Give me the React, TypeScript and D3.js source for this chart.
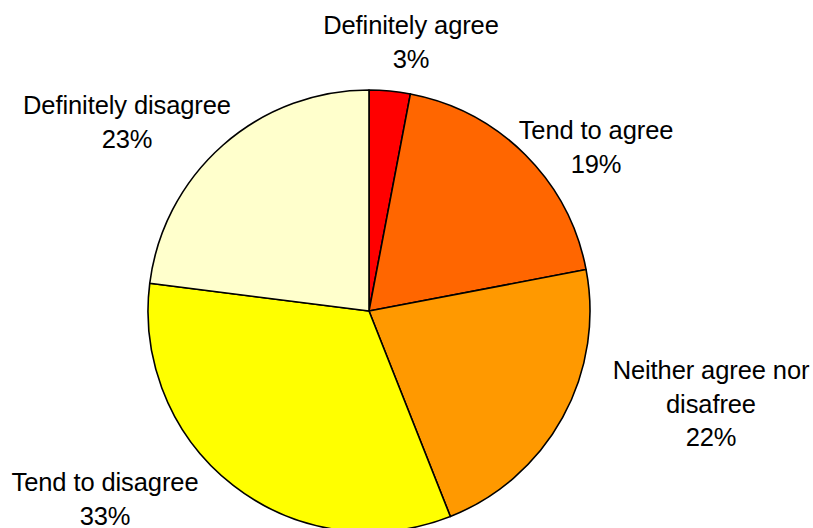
import React from "react";
import * as d3 from "d3";

const categories = ["Definitely agree", "Tend to agree", "Neither agree nor disafree", "Tend to disagree", "Definitely disagree"];
const values = [3, 19, 22, 33, 23];
const colors = ["#FF0000", "#FF6600", "#FF9900", "#FFFF00", "#FFFFCC"];
const labelLines = [
  ["Definitely agree", "3%"],
  ["Tend to agree", "19%"],
  ["Neither agree nor", "disafree", "22%"],
  ["Tend to disagree", "33%"],
  ["Definitely disagree", "23%"],
];
const labelPos: [number, number][] = [
  [411, 34],
  [596, 139],
  [711, 379],
  [105, 491],
  [127, 114],
];

export default function App() {
  const W = 813, H = 528;
  const cx = 369, cy = 311, r = 221;
  const pie = d3.pie<number>().sort(null).value((d) => d)(values);
  const arc = d3.arc<d3.PieArcDatum<number>>().innerRadius(0).outerRadius(r);
  return (
    <svg width={W} height={H} style={{ position: "absolute", left: 0, top: 0, background: "#fff" }}>
      <g transform={`translate(${cx},${cy})`}>
        {pie.map((p, i) => (
          <path key={categories[i]} d={arc(p) || ""} fill={colors[i]} stroke="#000" strokeWidth={1.6} strokeLinejoin="round" />
        ))}
      </g>
      {labelLines.map((lines, i) => (
        <text key={i} x={labelPos[i][0]} y={labelPos[i][1]} textAnchor="middle" fontFamily="Liberation Sans, Arial, sans-serif" fontSize={25.5} letterSpacing={-0.1} fill="#000">
          {lines.map((l, j) => (
            <tspan key={j} x={labelPos[i][0]} dy={j === 0 ? 0 : 33.5}>{l}</tspan>
          ))}
        </text>
      ))}
    </svg>
  );
}
